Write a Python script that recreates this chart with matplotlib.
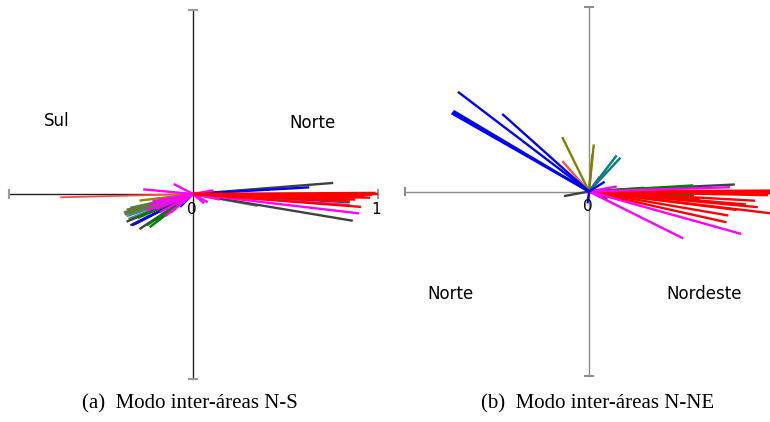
import matplotlib
matplotlib.use("Agg")
import matplotlib.pyplot as plt

# ---------------------------------------------
# Dados: extremidades dos fasores (origem em 0,0)
# ---------------------------------------------
# (a) modo inter-áreas N-S
ns_red = [(1.0, 0.0), (0.99, 0.006), (0.97, -0.004), (0.96, -0.02), (0.93, -0.012),
          (0.91, -0.07), (0.88, -0.03), (0.85, -0.04)]
ns_red_left = [(-0.72, -0.018), (-0.36, -0.1)]
ns_blue = [(0.63, 0.036), (0.75, -0.012), (0.40, -0.02), (-0.33, -0.17), (-0.31, -0.16),
           (-0.07, -0.07), (-0.2, -0.15)]
ns_green = [(0.85, -0.045), (0.82, -0.038), (0.50, -0.03), (-0.235, -0.18), (-0.25, -0.17),
            (-0.3, -0.13)]
ns_gray = [(0.76, 0.06), (0.866, -0.145), (0.90, -0.006), (-0.34, -0.17), (-0.29, -0.19),
           (-0.36, -0.15)]
ns_magenta = [(0.90, -0.105), (0.85, -0.06), (0.145, -0.03), (0.11, 0.02), (0.08, -0.045),
              (0.06, -0.05), (-0.27, 0.025), (-0.104, 0.054), (-0.235, -0.06), (-0.2, -0.08),
              (-0.15, -0.12), (-0.22, -0.04), (-0.18, -0.1), (-0.12, -0.1), (-0.25, -0.09)]
ns_olive = [(-0.29, -0.036), (-0.2, -0.04)]
ns_olivegreen = [(-0.375, -0.1), (-0.36, -0.085), (-0.33, -0.09), (-0.3, -0.07),
                 (-0.37, -0.11), (-0.34, -0.075), (-0.28, -0.08)]
ns_teal = [(-0.36, -0.12), (-0.35, -0.135), (-0.33, -0.13), (-0.34, -0.11), (0.35, -0.064)]

# (b) modo inter-áreas N-NE
nne_blue = [(-0.74, 0.43), (-0.745, 0.424), (-0.735, 0.437), (-0.71, 0.54), (-0.47, 0.42),
            (0.085, 0.053), (-0.007, -0.064)]
nne_salmon = [(-0.145, 0.165)]
nne_olive = [(-0.145, 0.295), (0.026, 0.255), (0.018, 0.2)]
nne_teal = [(0.15, 0.196), (0.17, 0.183)]
nne_gray = [(-0.136, -0.025), (0.79, 0.038), (0.30, 0.02)]
nne_magenta = [(0.765, 0.023), (0.15, 0.027), (0.825, -0.23), (0.51, -0.254), (0.058, 0.08)]
nne_green = [(0.565, 0.033), (0.57, -0.02), (0.10, -0.04)]
nne_red = [(1.0, 0.005), (0.995, 0.0), (1.0, -0.01), (0.946, -0.013), (1.0, -0.12),
           (0.915, -0.085), (0.755, -0.13), (0.745, -0.167), (0.97, -0.02), (0.90, -0.05),
           (0.85, -0.07), (0.70, -0.06), (0.60, -0.04), (0.80, -0.10), (0.50, -0.03)]

captions = ["(a)  Modo inter-áreas N-S", "(b)  Modo inter-áreas N-NE"]

W, H = 770, 422
S = 184.5  # pixels por unidade
LIM = 1.04
LW = 1.7

fig = plt.figure(figsize=(W / 100, H / 100), dpi=100)


def make_axes(ox, oy):
    # ox, oy: origem em pixels (a partir do topo esquerdo)
    left = (ox - LIM * S) / W
    bottom = (H - oy - LIM * S) / H
    ax = fig.add_axes([left, bottom, 2 * LIM * S / W, 2 * LIM * S / H])
    ax.set_xlim(-LIM, LIM)
    ax.set_ylim(-LIM, LIM)
    ax.axis("off")
    return ax


def draw_cross(ax, line_color, cap_color):
    ax.plot([-1, 1], [0, 0], color=line_color, lw=1.0, zorder=1)
    ax.plot([0, 0], [-1, 1], color=line_color, lw=1.0, zorder=1)
    c = 0.02
    ax.plot([-1, -1], [-c, c], color=cap_color, lw=1.5, zorder=1)
    ax.plot([1, 1], [-c, c], color=cap_color, lw=1.5, zorder=1)
    ax.plot([-c, c], [1, 1], color=cap_color, lw=1.5, zorder=1)
    ax.plot([-c, c], [-1, -1], color=cap_color, lw=1.5, zorder=1)


def draw_vectors(ax, pts, color, lw=LW):
    for x, y in pts:
        ax.plot([0, x], [0, y], color=color, lw=lw, solid_capstyle="butt", zorder=2)


# ---------- painel (a) ----------
ax1 = make_axes(193, 194)
draw_cross(ax1, "#222222", "#9a9a9a")
draw_vectors(ax1, ns_red_left, "#ff4a4a", 1.3)
draw_vectors(ax1, ns_teal, "#4a8a8a")
draw_vectors(ax1, ns_olivegreen, "#607a3a")
draw_vectors(ax1, ns_olive, "#8a8a00")
draw_vectors(ax1, ns_gray, "#404040")
draw_vectors(ax1, ns_blue, "#0000ff")
draw_vectors(ax1, ns_green, "#008000")
draw_vectors(ax1, ns_magenta, "#ff00ff")
draw_vectors(ax1, ns_red, "#ff0000")
ax1.text(-0.737, 0.396, "Sul", fontsize=12, ha="center", va="center")
ax1.text(0.645, 0.385, "Norte", fontsize=12, ha="center", va="center")
ax1.text(-0.005, -0.083, "0", fontsize=11, ha="center", va="center")
ax1.text(0.99, -0.083, "1", fontsize=11, ha="center", va="center")

# ---------- painel (b) ----------
ax2 = make_axes(589, 191.5)
draw_cross(ax2, "#8c8c8c", "#8c8c8c")
draw_vectors(ax2, nne_gray, "#404040")
draw_vectors(ax2, nne_green, "#008000")
draw_vectors(ax2, nne_red, "#ff0000")
draw_vectors(ax2, nne_magenta, "#ff00ff")
draw_vectors(ax2, nne_salmon, "#ff5050")
draw_vectors(ax2, nne_olive, "#808000")
draw_vectors(ax2, nne_teal, "#008080")
draw_vectors(ax2, nne_blue, "#0000ff")
ax2.text(-0.753, -0.556, "Norte", fontsize=12, ha="center", va="center")
ax2.text(0.623, -0.556, "Nordeste", fontsize=12, ha="center", va="center")
ax2.text(-0.005, -0.082, "0", fontsize=11, ha="center", va="center")

# legendas
fig.text(190 / W, 1 - 404 / H, captions[0], family="Liberation Serif", fontsize=15,
         ha="center", va="center")
fig.text(598 / W, 1 - 404 / H, captions[1], family="Liberation Serif", fontsize=15,
         ha="center", va="center")

fig.savefig("out.png", dpi=100)
